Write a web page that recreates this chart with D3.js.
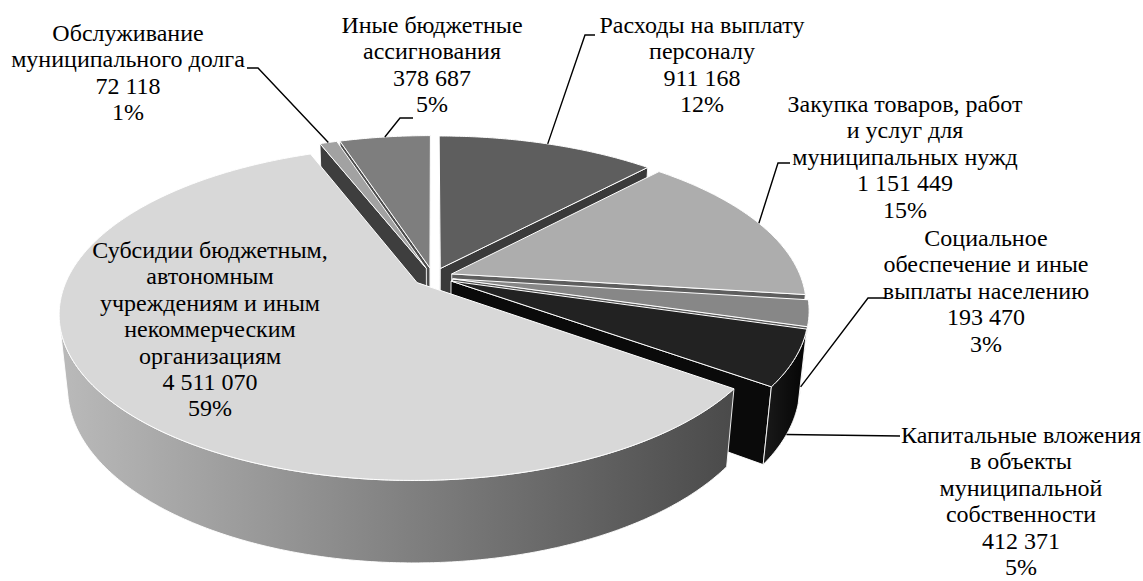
<!DOCTYPE html>
<html>
<head>
<meta charset="utf-8">
<script src="https://cdn.jsdelivr.net/npm/d3@7"></script>
</head>
<body style="margin:0;background:#fff">
<svg id="chart" width="1143" height="581" style="font-family:'Liberation Serif';font-size:24px"></svg>
<script>
const categories = [
    'Расходы на выплату персоналу',
    'Закупка товаров, работ и услуг для муниципальных нужд',
    'Социальное обеспечение и иные выплаты населению',
    'Капитальные вложения в объекты муниципальной собственности',
    'Субсидии бюджетным, автономным учреждениям и иным некоммерческим организациям',
    'Обслуживание муниципального долга',
    'Иные бюджетные ассигнования'
];
const labelLines = [
    ['Расходы на выплату', 'персоналу'],
    ['Закупка товаров, работ', 'и услуг для', 'муниципальных нужд'],
    ['Социальное', 'обеспечение и иные', 'выплаты населению'],
    ['Капитальные вложения', 'в объекты', 'муниципальной', 'собственности'],
    ['Субсидии бюджетным,', 'автономным', 'учреждениям и иным', 'некоммерческим', 'организациям'],
    ['Обслуживание', 'муниципального долга'],
    ['Иные бюджетные', 'ассигнования']
];
const values = [911168, 1151449, 193470, 412371, 4511070, 72118, 378687];

// styling (grey palette of the original)
const topColors  = ['#5e5e5e', '#adadad', '#878787', '#222222', '#d8d8d8', '#a2a2a2', '#7e7e7e'];
const wallColors = ['#3a3a3a', '#5e5e5e', '#5a5a5a', '#0a0a0a', '#6d6d6d', '#3e3e3e', '#4d4d4d'];
const sideShades = [
    ['#404040', '#303030'], ['#7a7a7a', '#606060'], ['#5e5e5e', '#4a4a4a'], ['#1a1a1a', '#040404'],
    ['#bababa', '#4a4a4a'], ['#606060', '#404040'], ['#5a5a5a', '#404040']
];

// label boxes: centre x, first baseline, leader knee points, which rim the leader touches
const labelLayout = [
    { x: 702, y: 33, knee: [[595, 35], [585, 35]], rim: 'top' },
    { x: 905, y: 112, knee: [[790, 163], [778, 163]], rim: 'top' },
    { x: 986, y: 246, knee: [[885, 298], [868, 298]], rim: 'bottom' },
    { x: 1021, y: 443, knee: [[900, 436]], rim: 'bottom' },
    { x: 210, y: 258, knee: null },
    { x: 128, y: 41, knee: [[247, 68], [258, 68]], rim: 'top' },
    { x: 432, y: 33, knee: [[413, 118], [400, 118]], rim: 'top' }
];
const linePitch = 26.4;

const svg = d3.select('#chart');
const total = d3.sum(values);
const fmt = d3.formatLocale({ decimal: ',', thousands: ' ', grouping: [3], currency: ['', ''] }).format(',d');

// perspective camera for the tilted pie
const cam = { cx: 433, cy: 277, A: 1707, s: 0.457, d: 4.89, h: 0.236, e: 0.0573 };
cam.c = Math.sqrt(1 - cam.s * cam.s);
const camPos = [0, cam.d * cam.s, cam.d * cam.c];

function project(X, Y, Z) {
    const yc = Y * cam.c - Z * cam.s;
    const zc = -Y * cam.s - Z * cam.c + cam.d;
    return [cam.cx + cam.A * X / zc, cam.cy - cam.A * yc / zc, zc];
}
function pt3(a, r, Y, off) {
    return [off[0] + r * Math.sin(a), Y, off[1] - r * Math.cos(a)];
}
function rim(a, r, Y, off) {
    const p = pt3(a, r, Y, off);
    return project(p[0], p[1], p[2]);
}

const arcs = d3.pie().sort(null).value(d => d)(values);
const step = Math.PI / 360;
const line = d3.line();

const slices = arcs.map((a, i) => {
    const mid = (a.startAngle + a.endAngle) / 2;
    const off = [cam.e * Math.sin(mid), -cam.e * Math.cos(mid)];
    return { i, a0: a.startAngle, a1: a.endAngle, mid, off };
});

const walls = [];
slices.forEach(sl => {
    // radial walls (start / end edge)
    [[sl.a0, -1], [sl.a1, 1]].forEach(([ang, dir]) => {
        const n = [dir * Math.cos(ang), 0, dir * Math.sin(ang)];
        const P = pt3(ang, 0.5, -cam.h / 2, sl.off);
        const v = n[0] * (camPos[0] - P[0]) + n[1] * (camPos[1] - P[1]) + n[2] * (camPos[2] - P[2]);
        if (v <= 0) return;
        const pts = [rim(ang, 0, 0, sl.off), rim(ang, 1, 0, sl.off), rim(ang, 1, -cam.h, sl.off), rim(ang, 0, -cam.h, sl.off)];
        walls.push({ pts, fill: wallColors[sl.i], depth: d3.mean(pts, p => p[2]) });
    });
    // outer curved wall, only the part facing the camera
    const top = [], bottom = [];
    const n = Math.max(2, Math.ceil((sl.a1 - sl.a0) / step));
    for (let k = 0; k <= n; k++) {
        const ang = sl.a0 + (sl.a1 - sl.a0) * k / n;
        const P = pt3(ang, 1, -cam.h / 2, sl.off);
        const v = Math.sin(ang) * (camPos[0] - P[0]) - Math.cos(ang) * (camPos[2] - P[2]);
        if (v > 0) {
            top.push(rim(ang, 1, 0, sl.off));
            bottom.push(rim(ang, 1, -cam.h, sl.off));
        }
    }
    if (top.length > 1) {
        const pts = top.concat(bottom.reverse());
        walls.push({ pts, side: sl.i, depth: d3.mean(pts, p => p[2]) });
    }
});
walls.sort((a, b) => b.depth - a.depth);

const defs = svg.append('defs');
walls.filter(w => w.side !== undefined).forEach(w => {
    const [x0, x1] = d3.extent(w.pts, p => p[0]);
    const shade = d3.scaleLinear().domain([0, 1]).range(sideShades[w.side]);
    const g = defs.append('linearGradient')
        .attr('id', 'side-' + w.side)
        .attr('gradientUnits', 'userSpaceOnUse')
        .attr('x1', x0).attr('x2', x1).attr('y1', 0).attr('y2', 0);
    [0, 0.5, 1].forEach(t => g.append('stop').attr('offset', t).attr('stop-color', shade(t)));
    w.fill = 'url(#side-' + w.side + ')';
});

const pie = svg.append('g').attr('class', 'pie');

pie.selectAll('path.wall')
    .data(walls)
    .enter()
    .append('path')
    .attr('class', 'wall')
    .attr('d', w => line(w.pts.map(p => [p[0], p[1]])) + 'Z')
    .attr('fill', w => w.fill)
    .attr('stroke', '#fff')
    .attr('stroke-width', 0.9)
    .attr('stroke-linejoin', 'round');

pie.selectAll('path.top')
    .data(slices)
    .enter()
    .append('path')
    .attr('class', 'top')
    .attr('d', sl => {
        const pts = [rim(sl.a0, 0, 0, sl.off)];
        const n = Math.max(2, Math.ceil((sl.a1 - sl.a0) / step));
        for (let k = 0; k <= n; k++) pts.push(rim(sl.a0 + (sl.a1 - sl.a0) * k / n, 1, 0, sl.off));
        return line(pts.map(p => [p[0], p[1]])) + 'Z';
    })
    .attr('fill', sl => topColors[sl.i])
    .attr('stroke', '#fff')
    .attr('stroke-width', 1)
    .attr('stroke-linejoin', 'round');

// leader lines
const leaders = svg.append('g').attr('class', 'leaders');
slices.forEach(sl => {
    const lay = labelLayout[sl.i];
    if (!lay.knee) return;
    const end = rim(sl.mid, 1, lay.rim === 'top' ? 0 : -cam.h, sl.off);
    leaders.append('path')
        .attr('d', line(lay.knee.concat([[end[0], end[1]]])))
        .attr('fill', 'none')
        .attr('stroke', '#000')
        .attr('stroke-width', 1.4);
});

// data labels, one text element per line
const labels = svg.append('g').attr('class', 'labels');
slices.forEach(sl => {
    const lay = labelLayout[sl.i];
    const lines = labelLines[sl.i].concat([fmt(values[sl.i]), Math.round(values[sl.i] / total * 100) + '%']);
    labels.selectAll(null)
        .data(lines)
        .enter()
        .append('text')
        .attr('x', lay.x)
        .attr('y', (d, k) => lay.y + k * linePitch)
        .attr('text-anchor', 'middle')
        .style('font-family', '"Liberation Serif"')
        .style('font-size', '24px')
        .attr('data-category', categories[sl.i])
        .text(d => d);
});
</script>
</body>
</html>
